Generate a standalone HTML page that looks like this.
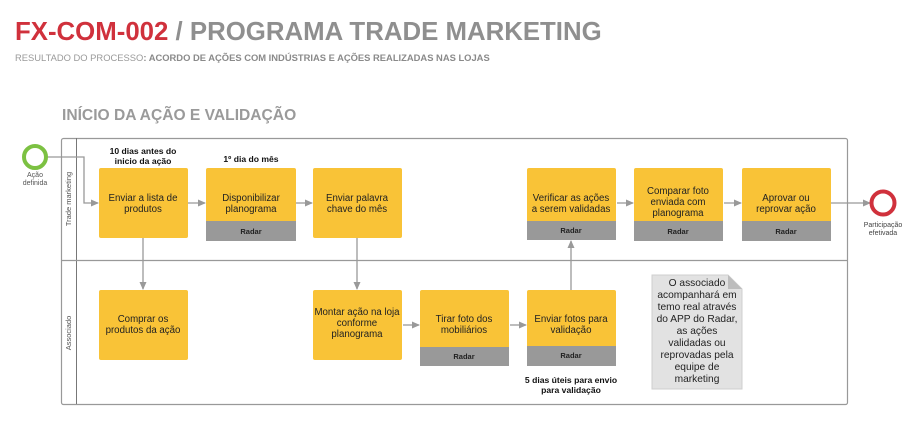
<!DOCTYPE html>
<html><head><meta charset="utf-8"><style>
body{margin:0;background:#fff;width:920px;height:431px;overflow:hidden;font-family:"Liberation Sans",Arial,sans-serif}
</style></head><body>
<svg width="920" height="431" viewBox="0 0 920 431" xmlns="http://www.w3.org/2000/svg" font-family="Liberation Sans, Arial, sans-serif">
<defs><marker id="a" markerWidth="8" markerHeight="8" refX="7" refY="4" orient="auto" markerUnits="userSpaceOnUse"><path d="M0,0.5 L8,4 L0,7.5 z" fill="#999"/></marker></defs>
<text x="15" y="40" font-size="25.8" font-weight="bold" fill="#d0313c">FX-COM-002 <tspan fill="#8f8f8f">/ PROGRAMA TRADE MARKETING</tspan></text>
<text x="15" y="61" font-size="9.4" fill="#9a9a9a">RESULTADO DO PROCESSO<tspan font-weight="bold" fill="#8a8a8a">: ACORDO DE AÇÕES COM INDÚSTRIAS E AÇÕES REALIZADAS NAS LOJAS</tspan></text>
<text x="62" y="120" font-size="15.6" font-weight="bold" fill="#9a9a9a">INÍCIO DA AÇÃO E VALIDAÇÃO</text>
<rect x="61.5" y="138.5" width="786" height="266" rx="2" fill="#fff" stroke="#999" stroke-width="1.2"/>
<line x1="76.5" y1="138" x2="76.5" y2="404" stroke="#777"/>
<line x1="61" y1="260.5" x2="848" y2="260.5" stroke="#999" stroke-width="1.2"/>
<text transform="translate(71,199) rotate(-90)" font-size="7.5" fill="#555" text-anchor="middle">Trade marketing</text>
<text transform="translate(71,333) rotate(-90)" font-size="7.5" fill="#555" text-anchor="middle">Associado</text>
<g stroke="#999" stroke-width="1.3" fill="none">
<path d="M46,157 H84 V203 H98" marker-end="url(#a)"/>
<path d="M188,203 H205" marker-end="url(#a)"/>
<path d="M296,203 H312" marker-end="url(#a)"/>
<path d="M617,203 H633" marker-end="url(#a)"/>
<path d="M724,203 H741" marker-end="url(#a)"/>
<path d="M831,203 H870" marker-end="url(#a)"/>
<path d="M143,238 V289" marker-end="url(#a)"/>
<path d="M357,238 V289" marker-end="url(#a)"/>
<path d="M403,325 H419" marker-end="url(#a)"/>
<path d="M510,325 H526" marker-end="url(#a)"/>
<path d="M571,290 V241" marker-end="url(#a)"/>
</g>
<circle cx="35" cy="157" r="11" fill="#fff" stroke="#7cc142" stroke-width="4"/>
<text x="35" y="177" font-size="7" fill="#555" text-anchor="middle">Ação</text>
<text x="35" y="185" font-size="7" fill="#555" text-anchor="middle">definida</text>
<circle cx="883" cy="203" r="11.5" fill="#fff" stroke="#d0313c" stroke-width="4"/>
<text x="883" y="227" font-size="7" fill="#444" text-anchor="middle">Participação</text>
<text x="883" y="235" font-size="7" fill="#444" text-anchor="middle">efetivada</text>
<g font-size="8.6" font-weight="bold" fill="#111" text-anchor="middle">
<text x="143" y="154">10 dias antes do</text><text x="143" y="164">inicio da ação</text>
<text x="251" y="162">1º dia do mês</text>
<text x="571" y="383">5 dias úteis para envio</text><text x="571" y="393">para validação</text>
</g>
<g fill="#f9c337">
<rect x="99" y="168" width="89" height="70" rx="2"/>
<rect x="206" y="168" width="90" height="73" rx="2"/>
<rect x="313" y="168" width="89" height="70" rx="2"/>
<rect x="527" y="168" width="89" height="72" rx="2"/>
<rect x="634" y="168" width="89" height="73" rx="2"/>
<rect x="742" y="168" width="89" height="73" rx="2"/>
<rect x="99" y="290" width="89" height="70" rx="2"/>
<rect x="313" y="290" width="89" height="70" rx="2"/>
<rect x="420" y="290" width="89" height="76" rx="2"/>
<rect x="527" y="290" width="89" height="76" rx="2"/>
</g>
<g fill="#999">
<rect x="206" y="221" width="90" height="20"/>
<rect x="527" y="221" width="89" height="19"/>
<rect x="634" y="221" width="89" height="20"/>
<rect x="742" y="221" width="89" height="20"/>
<rect x="420" y="347" width="89" height="19"/>
<rect x="527" y="346" width="89" height="20"/>
</g>
<g font-size="7.5" font-weight="bold" fill="#222" text-anchor="middle">
<text x="251" y="234">Radar</text><text x="571" y="233">Radar</text><text x="678" y="234">Radar</text><text x="786" y="234">Radar</text><text x="464" y="359">Radar</text><text x="571" y="358">Radar</text>
</g>
<g font-size="9.7" fill="#222" text-anchor="middle">
<text x="143" y="201">Enviar a lista de</text><text x="143" y="212">produtos</text>
<text x="251" y="201">Disponibilizar</text><text x="251" y="212">planograma</text>
<text x="357" y="201">Enviar palavra</text><text x="357" y="212">chave do mês</text>
<text x="571" y="201">Verificar as ações</text><text x="571" y="212">a serem validadas</text>
<text x="678" y="194">Comparar foto</text><text x="678" y="205">enviada com</text><text x="678" y="216">planograma</text>
<text x="786" y="201">Aprovar ou</text><text x="786" y="212">reprovar ação</text>
<text x="143" y="322">Comprar os</text><text x="143" y="333">produtos da ação</text>
<text x="357" y="315">Montar ação na loja</text><text x="357" y="326">conforme</text><text x="357" y="337">planograma</text>
<text x="464" y="322">Tirar foto dos</text><text x="464" y="333">mobiliários</text>
<text x="571" y="322">Enviar fotos para</text><text x="571" y="333">validação</text>
</g>
<path d="M652,275 H728 L742,289 V389 H652 Z" fill="#e2e2e2" stroke="#cfcfcf"/>
<path d="M728,275 V289 H742 Z" fill="#bdbdbd"/>
<g font-size="10.2" fill="#222" text-anchor="middle">
<text x="697" y="286">O associado</text><text x="697" y="298">acompanhará em</text><text x="697" y="310">temo real através</text><text x="697" y="322">do APP do Radar,</text><text x="697" y="334">as ações</text><text x="697" y="346">validadas ou</text><text x="697" y="358">reprovadas pela</text><text x="697" y="370">equipe de</text><text x="697" y="382">marketing</text>
</g>
</svg>
</body></html>
